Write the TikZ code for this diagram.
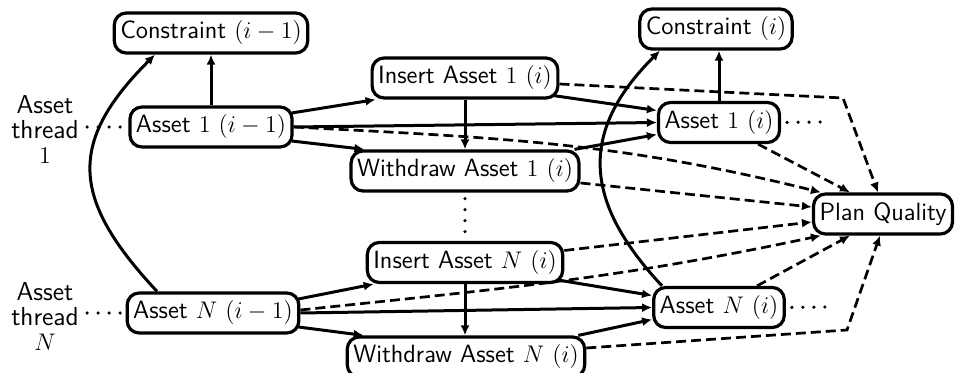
\documentclass[tikz,border=0pt]{standalone}
\usetikzlibrary{arrows.meta}
\newcommand\diagfont{\fontsize{12.5}{14}\selectfont\sffamily}
\newcommand\labfont{\fontsize{13}{12.5}\selectfont\sffamily}
\begin{document}
\begin{tikzpicture}[x=0.5pt,y=-0.5pt,
  box/.style={draw, line width=1.6pt, rounded corners=6pt, inner xsep=3pt, inner ysep=2pt,
    minimum height=20pt, font=\diagfont, fill=white},
  lbl/.style={align=center, inner sep=0pt, font=\labfont},
  arr/.style={-{Latex[length=5pt,width=4.5pt]}, line width=1.5pt},
  dsh/.style={-{Latex[length=5pt,width=4.5pt]}, line width=1.35pt, dash pattern=on 5pt off 2.5pt},
  dots/.style={line width=1.8pt, line cap=round, dash pattern=on 0pt off 5.5pt}]
\useasboundingbox (0,0) rectangle (955,373);
% nodes
\node[box] (C1p) at (211,33) {Constraint $(i-1)$};
\node[box] (A1p) at (211,127) {Asset $1$ $(i-1)$};
\node[box] (I1) at (465,78) {Insert Asset $1$ $(i)$};
\node[box] (W1) at (465,171) {Withdraw Asset $1$ $(i)$};
\node[box] (A1) at (719,122.5) {Asset $1$ $(i)$};
\node[box] (C1) at (716,29) {Constraint $(i)$};
\node[box] (PQ) at (883,214) {Plan Quality};
\node[box] (IN) at (465,262.5) {Insert Asset $N$ $(i)$};
\node[box] (WN) at (466,357) {Withdraw Asset $N$ $(i)$};
\node[box] (ANp) at (213,313) {Asset $N$ $(i-1)$};
\node[box] (AN) at (719,307.5) {Asset $N$ $(i)$};
\node[lbl] (L1) at (45,129) {Asset\\thread\\$1$};
\node[lbl] (LN) at (45,316) {Asset\\thread\\$N$};
\coordinate (e1) at (824,122);
\coordinate (eN) at (830,307);
\coordinate (k1) at (843,98);
\coordinate (k2) at (847,330);
% dotted
\draw[dots, shorten <=4pt] (L1.east |- A1p.west) -- (A1p.west);
\draw[dots, shorten <=4pt] (LN.east |- ANp.west) -- (ANp.west);
\draw[dots, shorten <=3pt] (A1.east) -- (e1);
\draw[dots, shorten <=3pt] (AN.east) -- (eN);
\draw[dots, shorten <=3pt] (W1.south) -- (W1.south |- IN.north);
% dashed to plan quality
\draw[dsh] (A1p.east) to[out=-3,in=166] ([xshift=4.5pt]PQ.north west);
\draw[dsh] ([yshift=1.5pt]ANp.east) to[out=6,in=-168] ([xshift=4.5pt]PQ.south west);
\draw[dsh] ([xshift=19.5pt]A1.south) -- ([xshift=-16.5pt]PQ.north);
\draw[dsh] ([xshift=19pt]AN.north) -- ([xshift=-16.5pt]PQ.south);
\draw[dsh] ([yshift=-3pt]I1.east) -- (k1) -- ([xshift=-2.5pt]PQ.north);
\draw[dsh] ([yshift=4.5pt]WN.east) -- (k2) -- ([xshift=-1.5pt]PQ.south);
\draw[dsh] ([yshift=-6pt]W1.east) -- ([yshift=3.5pt]PQ.west);
\draw[dsh] ([yshift=6pt]IN.east) -- ([yshift=-4pt]PQ.west);
% solid, thread 1
\draw[arr] (A1p) -- (C1p);
\draw[arr] ([xshift=-1pt,yshift=7pt]A1p.east) -- ([xshift=2.5pt]I1.south west);
\draw[arr] ([xshift=-1pt,yshift=-7pt]A1p.east) -- ([xshift=7.5pt]W1.north west);
\draw[arr] (A1p.east) -- (A1.west);
\draw[arr] (I1) -- (W1);
\draw[arr] ([xshift=-3pt,yshift=2pt]I1.south east) -- ([yshift=6pt]A1.west);
\draw[arr] ([xshift=-3pt]W1.north east) -- ([yshift=-6pt]A1.west);
\draw[arr] (A1.north) -- (A1.north |- C1.south);
% solid, thread N
\draw[arr] ([xshift=-1pt,yshift=7pt]ANp.east) -- ([xshift=4pt]IN.south west);
\draw[arr] ([xshift=-1pt,yshift=-7pt]ANp.east) -- ([xshift=9pt]WN.north west);
\draw[arr] (ANp.east) -- (AN.west);
\draw[arr] (IN.south) -- (IN.south |- WN.north);
\draw[arr] ([xshift=-3pt,yshift=2pt]IN.south east) -- ([yshift=6pt]AN.west);
\draw[arr] ([xshift=-4pt]WN.north east) -- ([yshift=-6pt]AN.west);
% constraint curves
\draw[arr] ([xshift=-28pt]ANp.north) to[out=133,in=225,looseness=1.35] ([xshift=-28pt]C1p.south);
\draw[arr] ([xshift=-28.5pt]AN.north) to[out=133,in=225,looseness=1.25] ([xshift=-28pt]C1.south);
\end{tikzpicture}
\end{document}
